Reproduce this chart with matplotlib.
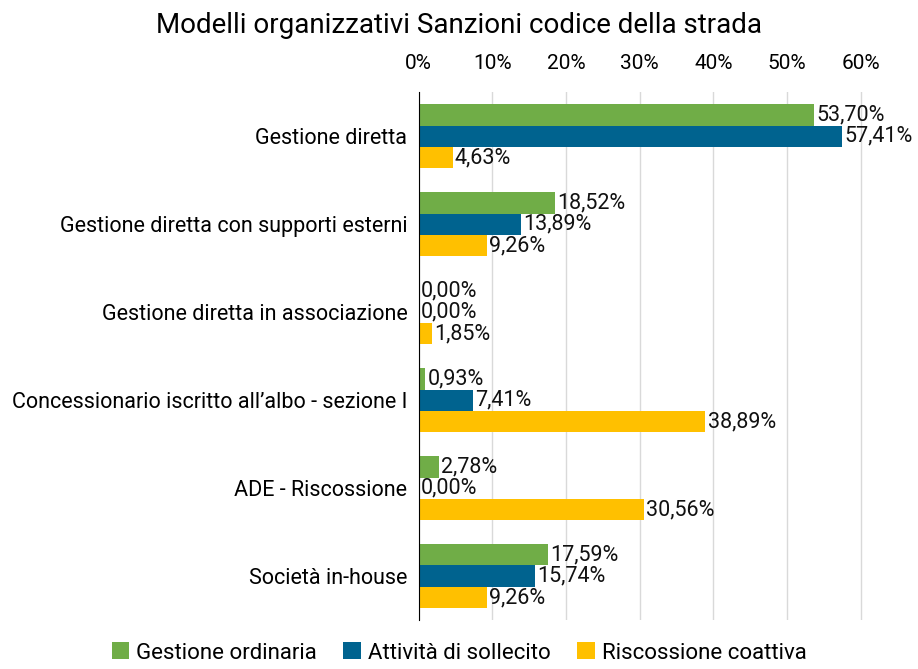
import numpy as np
import matplotlib
matplotlib.use("Agg")
from matplotlib import pyplot as plt

plt.rcParams['font.family'] = ['Roboto', 'DejaVu Sans']

categories = ["Gestione diretta",
              "Gestione diretta con supporti esterni",
              "Gestione diretta in associazione",
              "Concessionario iscritto all\u2019albo - sezione I",
              "ADE - Riscossione",
              "Societ\u00e0 in-house"]
ordinaria = [53.70, 18.52, 0.00, 0.93, 2.78, 17.59]
sollecito = [57.41, 13.89, 0.00, 7.41, 0.00, 15.74]
coattiva = [4.63, 9.26, 1.85, 38.89, 30.56, 9.26]
series = ["Gestione ordinaria", "Attivit\u00e0 di sollecito", "Riscossione coattiva"]
colors = ["#70AD47", "#00638F", "#FFC000"]

fig = plt.figure(figsize=(9.18, 6.69), dpi=100)
ax = fig.add_axes([0.456, 0.073, 0.522, 0.789])

y = np.arange(len(categories))
h = 0.243
for i, (vals, name, c) in enumerate(zip([ordinaria, sollecito, coattiva], series, colors)):
    pos = y + (i - 1) * h
    ax.barh(pos, vals, height=h, color=c, label=name, zorder=3)
    for p, v in zip(pos, vals):
        ax.text(v + 0.3, p, f"{v:.2f}%".replace(".", ","), va="center", ha="left",
                fontsize=15.5, color="#111111", zorder=4)

ax.set_ylim(len(categories) - 0.5, -0.5)
ax.set_xlim(0, 65)
ax.set_yticks(y)
ax.set_yticklabels(categories, fontsize=15.5)
ax.set_xticks(np.arange(0, 61, 10))
ax.set_xticklabels([f"{t}%" for t in range(0, 61, 10)], fontsize=15)
ax.xaxis.tick_top()
ax.tick_params(axis="y", length=0, pad=8)
ax.tick_params(axis="x", length=0, pad=14)
ax.grid(axis="x", color="#D9D9D9", linewidth=1, zorder=0)
for s in ["top", "right", "bottom"]:
    ax.spines[s].set_visible(False)
ax.spines["left"].set_color("black")
ax.spines["left"].set_zorder(5)

fig.text(0.5, 0.962, "Modelli organizzativi Sanzioni codice della strada",
         ha="center", va="center", fontsize=20)
fig.legend(loc="lower center", bbox_to_anchor=(0.5, -0.022), ncol=3, frameon=False,
           fontsize=16, handlelength=0.8, handleheight=0.8, columnspacing=1.2,
           handletextpad=0.3)

fig.savefig("out.png", dpi=100)
